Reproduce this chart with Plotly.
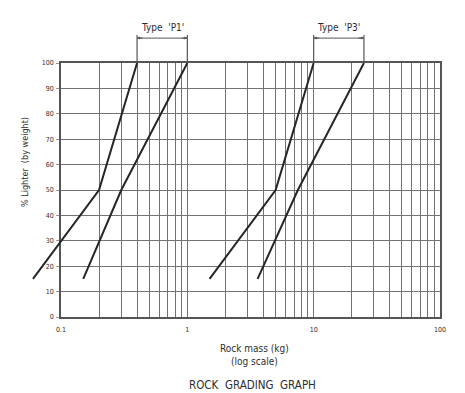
import math
import plotly.graph_objects as go

# ---- data ----
p1_fine_x = [0.06, 0.2, 0.4]
p1_fine_y = [15, 50, 100]
p1_coarse_x = [0.15, 0.3, 1.0]
p1_coarse_y = [15, 50, 100]
p3_fine_x = [1.5, 5.0, 10.0]
p3_fine_y = [15, 50, 100]
p3_coarse_x = [3.6, 7.5, 25.0]
p3_coarse_y = [15, 50, 100]

grid_x = [m * 10 ** e for e in (-1, 0, 1) for m in range(1, 10)] + [100]
x_tick_labels = {0.1: "0.1", 1: "1", 10: "10", 100: "100"}
y_ticks = list(range(0, 101, 10))
bands = [("Type  'P1'", 0.4, 1.0), ("Type  'P3'", 10.0, 25.0)]

FONT = "Liberation Sans Narrow, DejaVu Sans Condensed, Liberation Sans, sans-serif"
TXT = "#2e2e2e"
GRID = "#727272"
LINE = "#262626"

W, H = 465, 393
# the page body adds an 8px offset, so margins are shifted to compensate
ML, MR, MT, MB = 17, 33, 55, 84
plot_w = W - ML - MR
a = 36 / plot_w                    # main x-axis domain start
x_lo, x_hi = -1.0, 2.0             # log10 range of main axis
x2_lo = x_lo - (x_hi - x_lo) * a / (1 - a)

fig = go.Figure()

def line(xs, ys, xa="x", ya="y"):
    fig.add_trace(go.Scatter(x=xs, y=ys, mode="lines", xaxis=xa, yaxis=ya,
                             line=dict(color=LINE, width=2), showlegend=False,
                             hoverinfo="skip"))

line(p1_coarse_x, p1_coarse_y)
line(p3_fine_x, p3_fine_y)
line(p3_coarse_x, p3_coarse_y)
line(p1_fine_x, p1_fine_y, "x2", "y2")

# bracket marks above the plot
ann = []
shapes = []
for label, lo, hi in bands:
    for v in (lo, hi):
        shapes.append(dict(type="line", xref="x", yref="paper", x0=v, x1=v,
                           y0=1.0, y1=1.11, line=dict(color="#555", width=1.2)))
    shapes.append(dict(type="line", xref="x", yref="paper", x0=lo, x1=hi,
                       y0=1.098, y1=1.098, line=dict(color="#555", width=1)))
    for v, off in ((lo, 7), (hi, -7)):
        ann.append(dict(x=math.log10(v), y=1.098, xref="x", yref="paper",
                        text="", showarrow=True, ax=off, ay=0, arrowhead=2,
                        arrowsize=0.6, arrowwidth=1, arrowcolor="#555"))
    ann.append(dict(x=(math.log10(lo) + math.log10(hi)) / 2, y=1.138,
                    xref="x", yref="paper", text=label, showarrow=False,
                    xanchor="center", yanchor="middle",
                    font=dict(family=FONT, size=10, color=TXT)))

ann.append(dict(x=0.554, y=-0.15, xref="paper", yref="paper",
                xanchor="center", yanchor="middle",
                text="Rock mass (kg)<br>(log scale)", showarrow=False,
                font=dict(family=FONT, size=10, color=TXT)))
ann.append(dict(x=0.547, y=-0.266, xref="paper", yref="paper",
                xanchor="center", yanchor="middle",
                text="ROCK  GRADING  GRAPH", showarrow=False,
                font=dict(family=FONT, size=11.5, color=TXT)))
ann.append(dict(x=0.0, y=0.61, xref="paper", yref="paper",
                xanchor="center", yanchor="middle",
                text="% Lighter  (by weight)", showarrow=False, textangle=-90,
                font=dict(family=FONT, size=9, color=TXT)))

fig.update_layout(
    width=W, height=H,
    margin=dict(l=ML, r=MR, t=MT, b=MB),
    paper_bgcolor="white", plot_bgcolor="rgba(0,0,0,0)",
    shapes=shapes, annotations=ann,
    xaxis=dict(type="log", range=[x_lo, x_hi], domain=[a, 1], anchor="y",
               tickvals=grid_x,
               ticktext=[x_tick_labels.get(v, "") for v in grid_x],
               showgrid=True, gridcolor=GRID, gridwidth=1.3,
               showline=True, mirror=True, linecolor="#555", linewidth=1.5,
               ticks="", zeroline=False,
               tickfont=dict(family=FONT, size=7, color=TXT),
               ticklabelstandoff=5),
    yaxis=dict(range=[0, 100], domain=[0, 1], anchor="x", tickvals=y_ticks,
               ticktext=[str(v) for v in y_ticks],
               showgrid=True, gridcolor=GRID, gridwidth=1.3,
               showline=True, mirror=True, linecolor="#555", linewidth=1.5,
               ticks="outside", ticklen=3, tickcolor="#999", zeroline=False,
               tickfont=dict(family=FONT, size=7, color=TXT),
               ticklabelstandoff=1),
    xaxis2=dict(type="log", range=[x2_lo, x_hi], domain=[0, 1], anchor="y2",
                visible=False, showgrid=False, zeroline=False),
    yaxis2=dict(range=[0, 100], domain=[0, 1], anchor="x2",
                visible=False, showgrid=False, zeroline=False),
)

fig.write_html("out.html")
